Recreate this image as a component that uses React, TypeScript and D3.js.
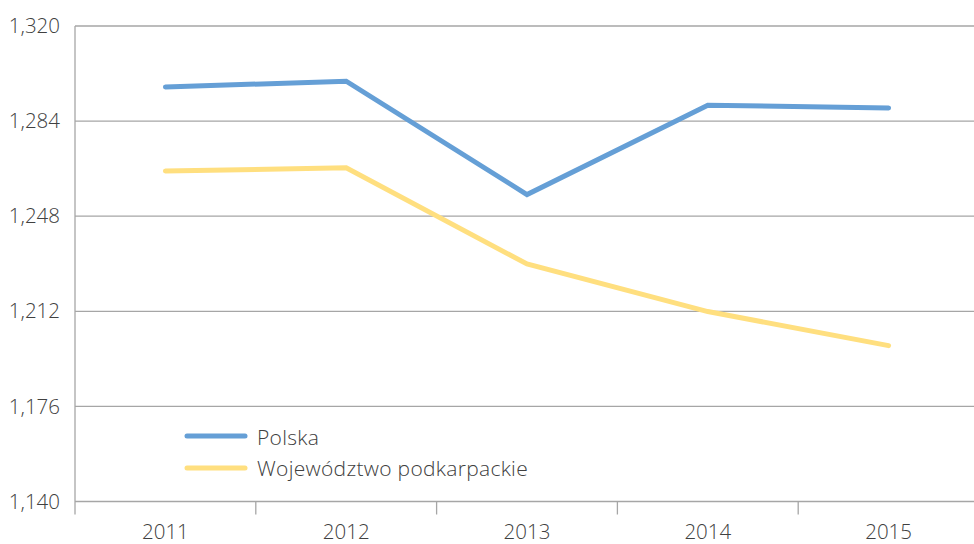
import React from "react";
import * as d3 from "d3";

const years = ["2011", "2012", "2013", "2014", "2015"];
const polska = [1296.9, 1299.1, 1256.2, 1290.0, 1289.0];
const podkarpackie = [1265.1, 1266.3, 1229.9, 1211.9, 1199.0];
const yTicks = [1140, 1176, 1212, 1248, 1284, 1320];
const seriesNames = ["Polska", "Województwo podkarpackie"];
const seriesColors = ["#659fd6", "#ffdf7f"];

const W = 974, H = 544;
const left = 75, right = 979, top = 26, bottom = 501.5;

export default function App() {
  const x = d3.scaleBand<string>().domain(years).range([left, right]);
  const y = d3.scaleLinear().domain([1140, 1320]).range([bottom, top]);
  const line = d3
    .line<number>()
    .x((_, i) => (x(years[i]) as number) + x.bandwidth() / 2)
    .y((d) => y(d));
  const fmt = d3.format(",");
  const font = "'Open Sans', 'Segoe UI', sans-serif";
  const series = [polska, podkarpackie];
  return (
    <svg width={W} height={H} style={{ position: "absolute", left: 0, top: 0 }}>
      <rect width={W} height={H} fill="#fff" />
      {yTicks.map((t) => (
        <g key={t}>
          <line x1={left} x2={W} y1={y(t)} y2={y(t)} stroke="#a6a6a6" strokeWidth={1.3} />
          <text
            x={60}
            y={y(t)}
            dy="0.35em"
            textAnchor="end"
            fontFamily={font}
            fontWeight={300}
            fontSize={20.5}
            fill="#404040"
          >
            {fmt(t)}
          </text>
        </g>
      ))}
      <line x1={left} x2={left} y1={top} y2={bottom + 13} stroke="#a6a6a6" strokeWidth={1.3} />
      {years.map((yr) => (
        <g key={yr}>
          <line
            x1={(x(yr) as number) + x.bandwidth()}
            x2={(x(yr) as number) + x.bandwidth()}
            y1={bottom}
            y2={bottom + 13}
            stroke="#a6a6a6"
            strokeWidth={1.3}
          />
          <text
            x={(x(yr) as number) + x.bandwidth() / 2}
            y={538.5}
            textAnchor="middle"
            fontFamily={font}
            fontWeight={300}
            fontSize={20.5}
            fill="#404040"
          >
            {yr}
          </text>
        </g>
      ))}
      {series.map((s, i) => (
        <path
          key={i}
          d={line(s) || ""}
          fill="none"
          stroke={seriesColors[i]}
          strokeWidth={5}
          strokeLinecap="round"
          strokeLinejoin="miter"
        />
      ))}
      {seriesNames.map((n, i) => (
        <g key={n}>
          <line
            x1={187}
            x2={245}
            y1={436 + i * 32}
            y2={436 + i * 32}
            stroke={seriesColors[i]}
            strokeWidth={5}
            strokeLinecap="round"
          />
          <text
            x={257}
            y={445 + i * 31}
            fontFamily={font}
            fontWeight={300}
            fontSize={21}
            letterSpacing={0.3}
            fill="#404040"
          >
            {n}
          </text>
        </g>
      ))}
    </svg>
  );
}
